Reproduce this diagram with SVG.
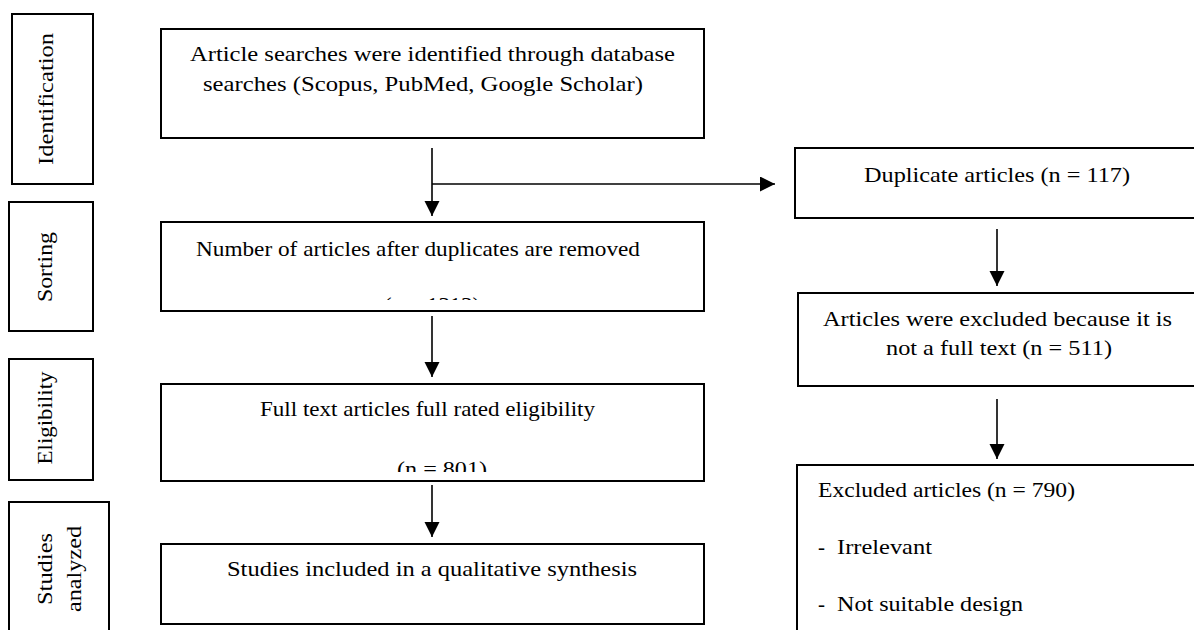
<svg xmlns="http://www.w3.org/2000/svg" width="1194" height="630" viewBox="0 0 1194 630">
<style>
  .box { fill: #fff; stroke: #000; stroke-width: 2; }
  .t { font-family: "Liberation Serif", "DejaVu Serif", serif; font-size: 21px; fill: #000; }
  .c { text-anchor: middle; }
  .conn { stroke: #000; stroke-width: 1.6; fill: none; }
</style>
<defs>
  <marker id="ah" markerUnits="userSpaceOnUse" markerWidth="16" markerHeight="16" refX="15" refY="7.5" orient="auto">
    <path d="M0,0 L15,7.5 L0,15 Z" fill="#000"/>
  </marker>
  <clipPath id="clip2"><rect x="161" y="222" width="543" height="78"/></clipPath>
  <clipPath id="clip3"><rect x="161" y="384" width="543" height="88"/></clipPath>
</defs>

<g id="stage-identification">
  <rect class="box" x="12" y="14" width="81" height="170"/>
  <text class="t c" transform="translate(53,99) rotate(-90)" textLength="132" lengthAdjust="spacingAndGlyphs">Identification</text>
</g>
<g id="stage-sorting">
  <rect class="box" x="9" y="202" width="84" height="129"/>
  <text class="t c" transform="translate(52,267) rotate(-90)" textLength="70" lengthAdjust="spacingAndGlyphs">Sorting</text>
</g>
<g id="stage-eligibility">
  <rect class="box" x="9" y="359" width="84" height="121"/>
  <text class="t c" transform="translate(52,418) rotate(-90)" textLength="93" lengthAdjust="spacingAndGlyphs">Eligibility</text>
</g>
<g id="stage-studies">
  <rect class="box" x="9" y="502" width="100" height="140"/>
  <text class="t c" transform="translate(52,569) rotate(-90)" textLength="72" lengthAdjust="spacingAndGlyphs">Studies</text>
  <text class="t c" transform="translate(81,569) rotate(-90)" textLength="86" lengthAdjust="spacingAndGlyphs">analyzed</text>
</g>

<g id="node-search">
  <rect class="box" x="161" y="29" width="543" height="109"/>
  <text class="t" x="190" y="61" textLength="485" lengthAdjust="spacingAndGlyphs">Article searches were identified through database</text>
  <text class="t" x="203" y="91" textLength="440" lengthAdjust="spacingAndGlyphs">searches (Scopus, PubMed, Google Scholar)</text>
</g>
<g id="node-after-dup">
  <rect class="box" x="161" y="222" width="543" height="89"/>
  <text class="t" x="196" y="256" textLength="444" lengthAdjust="spacingAndGlyphs">Number of articles after duplicates are removed</text>
  <g clip-path="url(#clip2)">
    <text class="t" x="384" y="312" textLength="96" lengthAdjust="spacingAndGlyphs">(n = 1313)</text>
  </g>
</g>
<g id="node-fulltext">
  <rect class="box" x="161" y="384" width="543" height="97"/>
  <text class="t" x="260" y="416" textLength="335" lengthAdjust="spacingAndGlyphs">Full text articles full rated eligibility</text>
  <g clip-path="url(#clip3)">
    <text class="t" x="397" y="476" textLength="90" lengthAdjust="spacingAndGlyphs">(n = 801)</text>
  </g>
</g>
<g id="node-included">
  <rect class="box" x="161" y="544" width="543" height="80"/>
  <text class="t" x="227" y="576" textLength="410" lengthAdjust="spacingAndGlyphs">Studies included in a qualitative synthesis</text>
</g>

<g id="node-duplicates">
  <rect class="box" x="795" y="148" width="410" height="70"/>
  <text class="t" x="864" y="182" textLength="266" lengthAdjust="spacingAndGlyphs">Duplicate articles (n = 117)</text>
</g>
<g id="node-not-full">
  <rect class="box" x="798" y="293" width="410" height="93"/>
  <text class="t" x="823" y="326" textLength="349" lengthAdjust="spacingAndGlyphs">Articles were excluded because it is</text>
  <text class="t" x="886" y="355" textLength="226" lengthAdjust="spacingAndGlyphs">not a full text (n = 511)</text>
</g>
<g id="node-excluded">
  <rect class="box" x="797" y="465" width="410" height="180"/>
  <text class="t" x="818" y="497" textLength="257" lengthAdjust="spacingAndGlyphs">Excluded articles (n = 790)</text>
  <text class="t" x="818" y="554">-</text>
  <text class="t" x="837" y="554" textLength="95" lengthAdjust="spacingAndGlyphs">Irrelevant</text>
  <text class="t" x="818" y="611">-</text>
  <text class="t" x="837" y="611" textLength="186" lengthAdjust="spacingAndGlyphs">Not suitable design</text>
</g>

<g id="connectors">
  <line class="conn" x1="432" y1="148" x2="432" y2="216" marker-end="url(#ah)"/>
  <line class="conn" x1="432" y1="184" x2="775" y2="184" marker-end="url(#ah)"/>
  <line class="conn" x1="432" y1="316" x2="432" y2="377" marker-end="url(#ah)"/>
  <line class="conn" x1="432" y1="485" x2="432" y2="537" marker-end="url(#ah)"/>
  <line class="conn" x1="997" y1="229" x2="997" y2="286" marker-end="url(#ah)"/>
  <line class="conn" x1="997" y1="399" x2="997" y2="459" marker-end="url(#ah)"/>
</g>
</svg>
